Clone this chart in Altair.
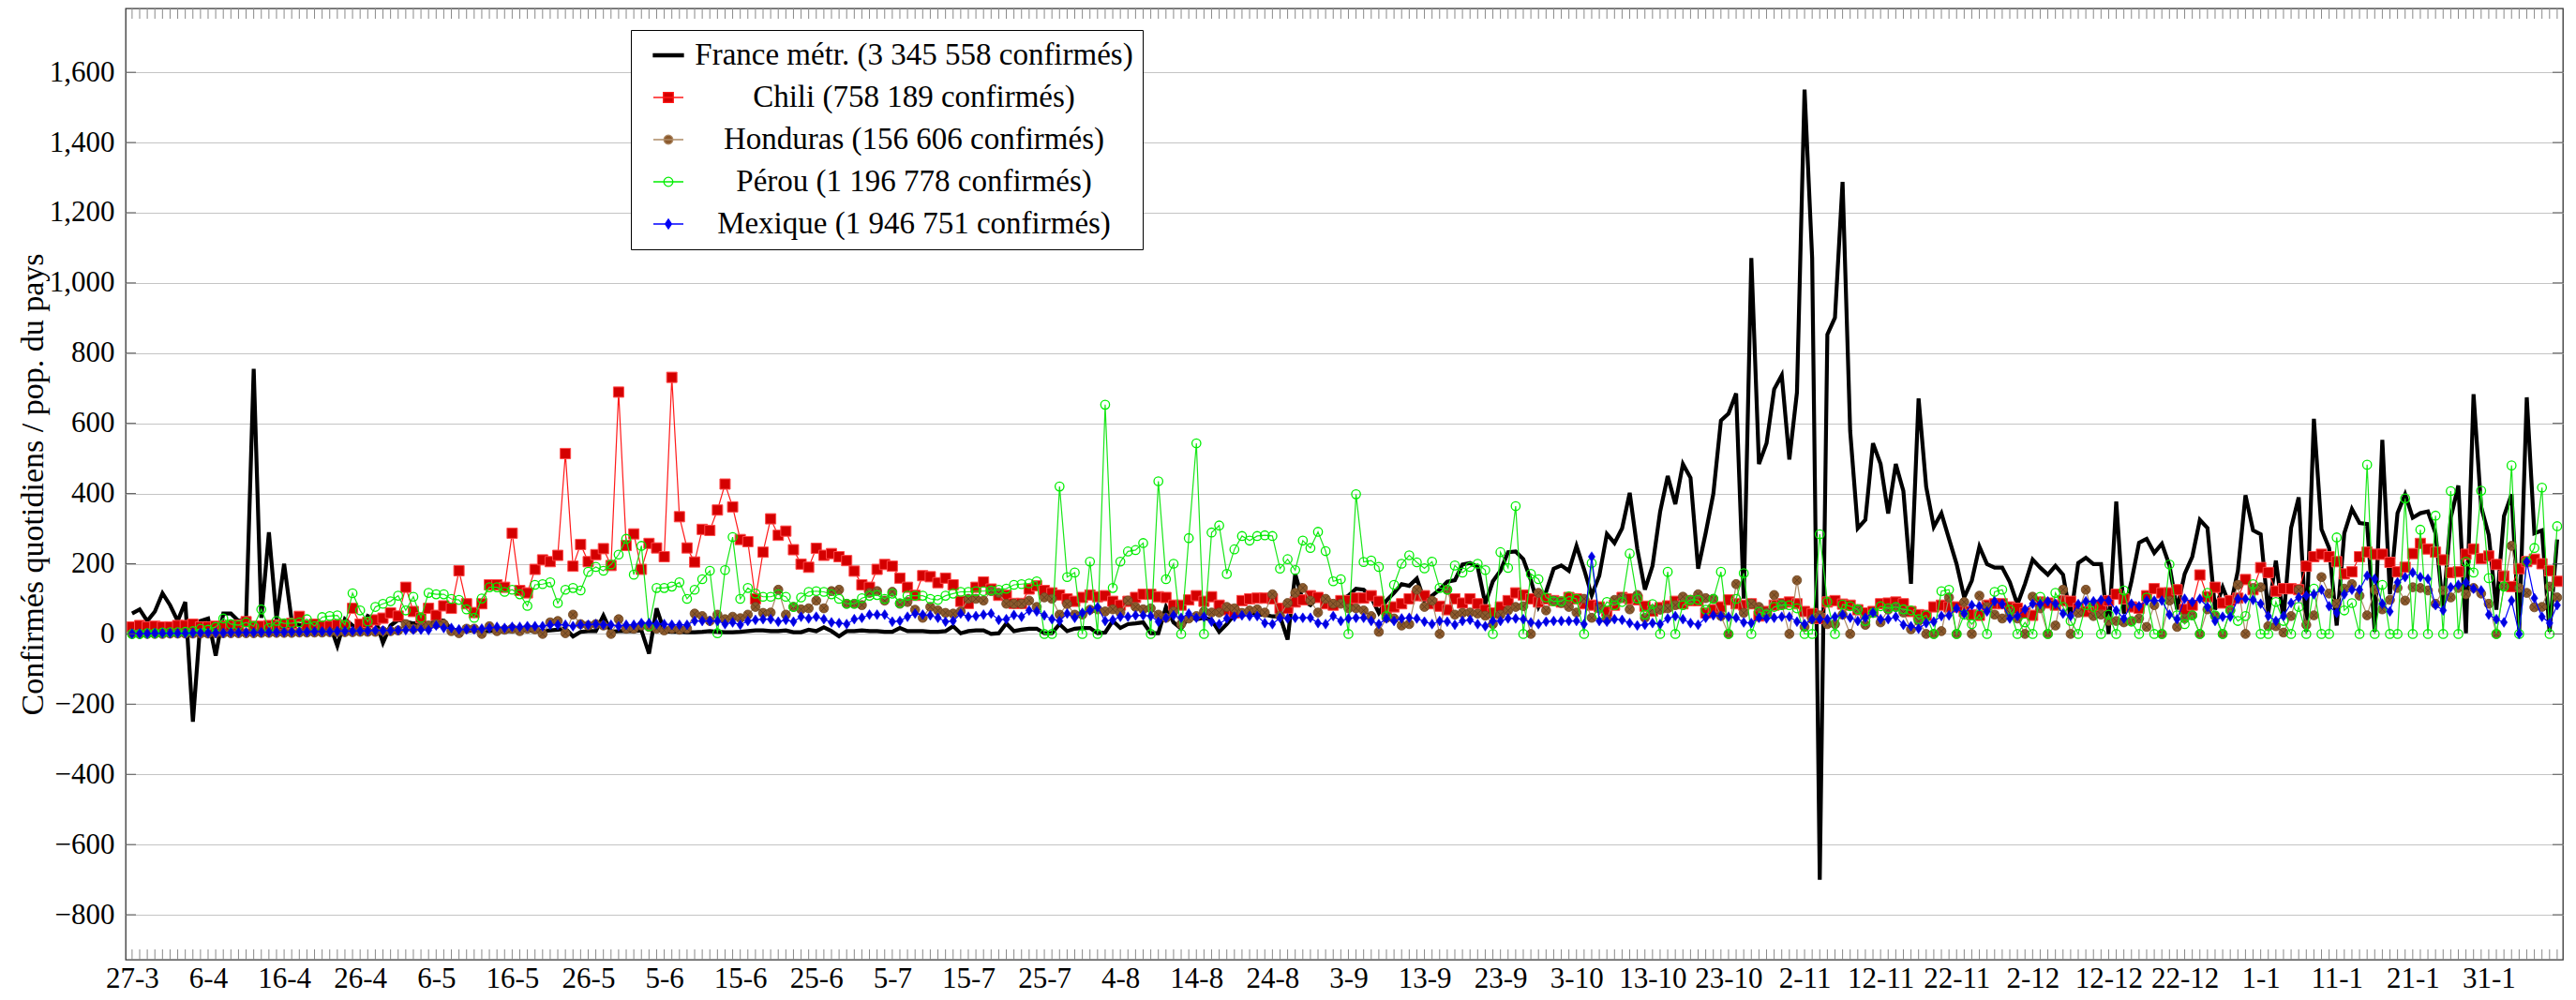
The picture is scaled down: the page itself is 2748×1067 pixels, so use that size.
import altair as alt
import pandas as pd

# ---------------- data ----------------
xtick_labels = ["27-3", "6-4", "16-4", "26-4", "6-5", "16-5", "26-5", "5-6", "15-6", "25-6",
                "5-7", "15-7", "25-7", "4-8", "14-8", "24-8", "3-9", "13-9", "23-9", "3-10",
                "13-10", "23-10", "2-11", "12-11", "22-11", "2-12", "12-12", "22-12", "1-1",
                "11-1", "21-1", "31-1"]
ytick_values = [-800, -600, -400, -200, 0, 200, 400, 600, 800, 1000, 1200, 1400, 1600]

series_labels = ["France métr. (3 345 558 confirmés)",
                 "Chili (758 189 confirmés)",
                 "Honduras (156 606 confirmés)",
                 "Pérou (1 196 778 confirmés)",
                 "Mexique (1 946 751 confirmés)"]

france = [
    58, 70, 37, 64, 116, 82, 37, 91, -250, 37, 44, -62, 58, 58, 37, 42, 755, 46, 290, 42,
    200, 37, 24, 28, 33, 33, 28, -34, 42, 24, 6, 51, 42, -25, 24, 40, 35, 30, 30, 25,
    40, 38, 12, 10, 8, 10, 8, 8, 10, 8, 8, 10, 10, 8, 8, 10, 12, 15, -7, 6,
    8, 8, 52, 6, 8, 8, 8, 10, -56, 73, 8, 6, 6, 5, 5, 6, 8, 6, 5,
    5, 6, 8, 10, 10, 8, 8, 10, 5, 5, 12, 8, 19, 8, -7, 8, 8, 10, 8, 8,
    6, 6, 17, 8, 8, 8, 6, 6, 8, 22, 2, 8, 10, 10, 0, 2, 30, 8, 12, 15, 15,
    2, 2, 28, 8, 15, 17, 17, 2, 4, 37, 17, 28, 30, 33, 2, 2, 77, 33, 15, 51,
    42, 46, 40, 6, 28, 55, 60, 64, 55, 55, 50, 50, -16, 171, 95, 82, 104, 90, 86,
    95, 109, 129, 126, 104, 60, 95, 117, 142, 137, 158, 95, 109, 126, 149, 153, 198, 202,
    191, 86, 150, 180, 233, 235, 213, 153, 77, 120, 186, 195, 180, 251, 184, 110, 166,
    285, 259, 301, 402, 242, 126, 194, 348, 450, 370, 484, 445, 186, 288, 399, 608, 628,
    685, 101, 1071, 484, 543, 697, 737, 497, 688, 1551, 1071, -700, 853, 901, 1288, 578,
    301, 325, 543, 484, 343, 484, 407, 143, 671, 419, 305, 344, 271, 199, 104, 152, 249,
    199, 189, 189, 148, 84, 143, 212, 189, 169, 194, 169,
    46, 202, 217, 199, 199, 0, 377, 58, 150, 260, 271, 231, 257, 195, 70, 171, 220, 325,
    302, 70, 133, 77, 180, 395, 295, 284,
    60, 209, 42, 302, 389, 6, 613, 298, 245, 24, 287, 356, 316, 313, 6, 553, 113, 344,
    398, 331, 344, 349, 287, 70, 331, 423, 2, 683, 362, 282, 69, 336, 398, 6, 674, 287,
    295, 6, 269]

chili = [
    20, 24, 20, 22, 20, 20, 24, 24, 28, 20, 20, 22, 22, 24, 25, 35, 22, 22, 24, 25,
    28, 30, 50, 24, 28, 22, 22, 26, 22, 73, 28, 33, 40, 45, 60, 51, 133, 64, 46,
    73, 53, 80, 73, 180, 86, 61, 86, 140, 140, 133, 287, 124, 117, 184, 211, 206, 224,
    514, 193, 255, 206, 226, 243, 195, 689, 252, 285, 184, 258, 245, 220, 731, 334, 245,
    205, 298, 295, 353, 427, 362, 269,
    263, 100, 233, 328, 281, 293, 240, 199, 190, 244, 224, 229, 220, 209, 179, 140, 133,
    184, 198, 193, 159, 133, 110, 166, 163, 146, 159, 140, 93, 87, 133, 148, 128, 110,
    110, 87, 87, 128, 137,
    124, 117, 111, 100, 93, 104, 111, 106, 109, 93, 82, 93, 104, 113, 113, 106, 104, 82,
    82, 97, 109, 93, 106, 82, 69, 60, 95, 100, 102, 102, 100, 73, 73, 91, 97, 109, 104,
    86, 82,
    95, 95, 102, 102, 109, 93, 69, 77, 86, 100, 109, 109, 86, 79, 69, 100, 88, 100, 86,
    69, 60, 77, 95, 117, 111, 100, 91, 100, 95, 91, 104, 100, 86, 82, 77, 64, 82, 104,
    100, 97,
    79, 65, 75, 80, 93, 86, 95, 95, 60, 69, 77, 97, 86, 82, 86, 51, 64, 82, 86, 91, 86,
    64, 58, 44, 91, 95, 85, 82, 69, 60, 64, 86, 88, 91, 86, 64, 55, 53, 77, 82,
    77, 77, 64, 55, 53, 82, 86, 86, 77, 73, 60, 53, 91, 88, 82, 95, 93, 73, 64, 77, 82,
    95, 113, 100, 77, 73, 109, 129, 117, 117, 126, 70, 82, 168, 106, 133, 88, 95, 102,
    155, 126,
    189, 175, 122, 129, 129, 126, 193, 220, 227, 220, 206, 171, 177, 220, 233, 227, 227,
    204, 177, 190, 229, 258, 242, 233, 211, 175, 177, 227, 242, 215, 222, 198, 165, 135,
    186, 206, 213, 200, 180, 150]

honduras = [
    0, 0, 0, 0, 0, 1, 1, 1, 1, 1, 1, 2, 2, 2, 2, 2, 2, 3, 3, 3, 3, 3, 4, 4, 4, 4, 5, 5,
    5, 5, 6, 6, 6, 8, 8, 10, 28, 15, 20,
    24, 28, 28, 8, 2, 15, 15, 0, 22, 8, 12, 15, 8, 15, 13, 0, 33, 37, 2, 55, 28, 24, 28,
    24, 0, 42, 15, 15, 24, 20, 15, 10, 15, 12, 15, 58, 51, 37, 55, 42, 49, 45,
    55, 77, 60, 61, 126, 55, 77, 70, 73, 95, 73, 122, 126, 86, 86, 82, 117, 122, 95, 120,
    86, 91, 69, 46, 77, 67, 60, 58, 64, 100, 100, 95, 122, 117, 86, 86, 86, 95, 77,
    104, 100, 55, 85, 55, 55, 69, 70, 64, 70, 61, 95, 77, 70, 73, 55, 46, 64, 28, 44, 51,
    64, 61, 61, 77, 73, 60, 67, 70, 61, 113, 51, 88, 117, 131, 95, 61, 100, 86,
    86, 73, 73, 67, 51, 6, 46, 44, 24, 28, 126, 77, 95, 0, 126, 55, 60, 61, 58, 52, 28,
    55, 67, 77, 79, 0, 117, 67, 95, 88, 77, 61, 100, 46, 73, 42, 97, 104, 70, 111,
    46, 70, 69, 73, 82, 106, 97, 113, 102, 100, 51, 0, 142, 60, 86, 77, 60, 111, 85, 0,
    153, 20, 42, 53, 28, 28, 55, 0, 70, 26, 60, 33, 69, 77, 61, 13, 37, 0, 0, 8,
    104, 0, 91, 0, 109, 77, 55, 44, 60, 44, 0, 106, 73, 0, 24, 126, 0, 60, 126, 51, 55,
    37, 37, 33, 37, 44, 20, 82, 0, 95, 20, 44, 53, 0, 70, 51, 0, 67, 140, 0, 131,
    133, 22, 22, 4, 51, 126, 26, 53, 162, 115, 86, 129, 142, 109, 53, 126, 70, 97, 131,
    95, 133, 131, 124, 86, 124, 104, 131, 113, 131, 115, 86, 0, 135, 251, 131, 117, 76,
    77, 135, 104]

perou = [
    0, 0, 2, 2, 4, 5, 5, 6, 8, 15, 12, 20, 44, 28, 25, 33, 22, 70, 17, 37, 30, 31, 33,
    42, 22, 48, 51, 53, 26, 116, 67, 35, 77, 86, 93, 109, 67, 106, 46,
    117, 113, 113, 100, 97, 70, 46, 101, 133, 133, 120, 126, 113, 80, 140, 142, 147, 88,
    126, 131, 124, 177, 191, 180, 198, 226, 271, 169, 251, 22, 131, 131, 135, 147, 100,
    126, 156, 180, 2, 182, 276, 100,
    131, 115, 106, 106, 113, 106, 77, 104, 120, 122, 120, 113, 100, 86, 86, 102, 109, 111,
    100, 115, 88, 109, 109, 109, 100, 97, 109, 115, 120, 120, 122, 122, 124, 126, 129,
    140, 142, 144, 150,
    0, 0, 420, 162, 175, 0, 206, 0, 653, 131, 206, 235, 239, 259, 0, 435, 156, 200, 0,
    273, 543, 0, 289, 309, 171, 241, 279, 266, 279, 281, 279, 186, 213, 182, 266, 245,
    291, 236, 150,
    156, 0, 398, 205, 209, 191, 51, 140, 200, 224, 204, 187, 206, 131, 126, 195, 175, 191,
    200, 182, 0, 233, 188, 364, 0, 171, 156, 104, 93, 93, 107, 100, 0, 202, 55, 91, 82,
    91, 229, 101,
    55, 85, 0, 177, 0, 82, 97, 97, 69, 100, 177, 0, 100, 173, 0, 63, 55, 77, 82, 82, 73,
    0, 0, 284, 91, 0, 84, 79, 70, 37, 60, 79, 73, 77, 70, 67, 42, 53, 0, 122,
    126, 0, 55, 28, 55, 0, 120, 126, 69, 0, 33, 0, 106, 0, 117, 77, 37, 0, 82, 77, 0, 55,
    0, 124, 35, 0, 104, 0, 0, 198, 53, 28, 53, 0, 117, 53, 0, 67, 37, 51, 142,
    0, 0, 91, 37, 0, 77, 0, 129, 0, 0, 275, 67, 88, 0, 482, 0, 140, 0, 0, 386, 0, 297, 0,
    337, 0, 407, 0, 206, 175, 408, 159, 0, 135, 480, 0, 206, 245, 417, 0, 307]

mexique = [
    1, 1, 1, 2, 2, 2, 2, 2, 3, 3, 3, 3, 3, 4, 4, 4, 4, 5, 5, 5, 5, 6, 6, 6, 7, 7, 7, 8,
    8, 8, 9, 9, 10, 10, 10, 11, 11, 12, 12,
    11, 24, 17, 17, 13, 13, 13, 15, 17, 20, 17, 20, 20, 22, 22, 22, 26, 26, 26, 22, 26,
    26, 28, 26, 26, 22, 26, 26, 31, 31, 28, 28, 26, 26, 26, 37, 37, 37, 37, 28,
    33, 26, 37, 40, 42, 42, 35, 40, 35, 49, 44, 49, 42, 33, 31, 28, 42, 46, 55, 55, 55,
    35, 37, 49, 58, 55, 53, 46, 35, 37, 58, 49, 51, 55, 58, 40, 42, 54, 49, 67, 64,
    53, 42, 37, 58, 46, 60, 67, 76, 37, 40, 49, 49, 53, 53, 51, 35, 46, 53, 46, 58, 46,
    49, 35, 28, 44, 49, 53, 51, 51, 31, 28, 46, 44, 46, 46, 46, 31, 28, 51, 37,
    44, 46, 46, 37, 28, 44, 37, 44, 46, 44, 35, 28, 37, 35, 26, 37, 40, 28, 22, 37, 37,
    44, 44, 42, 33, 28, 35, 37, 37, 37, 37, 28, 220, 37, 35, 42, 40, 31, 24, 26,
    31, 28, 44, 51, 42, 31, 26, 46, 53, 51, 49, 46, 33, 31, 46, 44, 46, 49, 49, 35, 28,
    42, 42, 42, 49, 55, 46, 37, 46, 61, 42, 42, 49, 26, 22, 15, 31, 35, 51, 53,
    73, 58, 82, 79, 64, 93, 85, 44, 51, 70, 86, 85, 93, 86, 58, 51, 85, 93, 93, 97, 95,
    67, 44, 86, 79, 95, 95, 95, 55, 42, 100, 91, 100, 77, 37, 49, 49, 100, 100, 97,
    86, 51, 37, 51, 88, 104, 109, 113, 126, 79, 60, 113, 126, 126, 166, 157, 86, 64, 147,
    162, 175, 162, 157, 82, 67, 133, 140, 147, 129, 124, 55, 42, 33, 95, 0, 206, 102, 49,
    31, 82]

N = len(france)
for s in (chili, honduras, perou, mexique):
    assert len(s) == N, (len(s), N)
days = list(range(N))

# ---------------- styling ----------------
FONT = "Liberation Serif, Times New Roman, DejaVu Serif, serif"
W, H = 2600, 1015

def frame(vals):
    return pd.DataFrame({"day": days, "v": vals})

label_js = "[" + ",".join("'%s'" % s for s in xtick_labels) + "][round(datum.value/10)]"
xaxis = alt.Axis(values=list(range(0, 10 * len(xtick_labels), 10)), labelExpr=label_js,
                 ticks=False, domain=False, grid=False, title=None, labelFlush=False,
                 labelOverlap=False, labelFont=FONT, labelFontSize=31, labelColor="black",
                 labelPadding=5)
yaxis = alt.Axis(values=ytick_values, format=",d", ticks=False, domain=False, grid=True,
                 gridColor="#c4c4c4", gridWidth=1.1,
                 title="Confirmés quotidiens / pop. du pays", titleFont=FONT,
                 titleFontSize=34, titleFontWeight="normal", titleColor="black",
                 titlePadding=0, labelFont=FONT, labelFontSize=31, labelColor="black",
                 labelPadding=12)
xscale = alt.Scale(domain=[-0.85, 319.75], nice=False, zero=False)
yscale = alt.Scale(domain=[-928, 1782], nice=False, zero=False)
X = alt.X("day:Q", scale=xscale, axis=xaxis)
Y = alt.Y("v:Q", scale=yscale, axis=yaxis)

def line(vals, color, width):
    return alt.Chart(frame(vals)).mark_line(color=color, strokeWidth=width, clip=True).encode(x=X, y=Y)

def pts(vals, **kw):
    return alt.Chart(frame(vals)).mark_point(clip=True, **kw).encode(x=X, y=Y)

diamond = "M0,-1L0.68,0L0,1L-0.68,0Z"
cross = "M-0.68,-0.68L0.68,0.68M-0.68,0.68L0.68,-0.68"

layers = [
    line(france, "black", 4.2),
    line(chili, "#ff1a1a", 1.2),
    pts(chili, shape="square", size=121, filled=True, fill="#d40000", stroke="#ff4a4a",
        strokeWidth=1, opacity=1),
    line(honduras, "#ad8a66", 1.2),
    pts(honduras, shape="circle", size=95, filled=True, fill="#8c5a2d", stroke="#6e4622",
        strokeWidth=0.8, opacity=1),
    pts(honduras, shape=cross, size=95, filled=False, stroke="#5b3a1c", strokeWidth=0.8,
        opacity=1),
    line(perou, "#19e619", 1.2),
    pts(perou, shape="circle", size=88, filled=False, stroke="#00ee00", strokeWidth=1.3,
        opacity=1),
    line(mexique, "#0000ff", 1.2),
    pts(mexique, shape=diamond, size=115, filled=True, fill="#0000e0", stroke="#0000ff",
        strokeWidth=0.5, opacity=1),
]

# axis decorations: inward ticks (pgfplots style)
tick_df = pd.DataFrame({"day": days})
ytick_df = pd.DataFrame({"v": ytick_values})
tick_col = "#8a8a8a"
layers += [
    alt.Chart(tick_df).mark_rule(color=tick_col, strokeWidth=1).encode(
        x=X, y=alt.value(H - 11), y2=alt.value(H)),
    alt.Chart(tick_df).mark_rule(color=tick_col, strokeWidth=1).encode(
        x=X, y=alt.value(0), y2=alt.value(11)),
    alt.Chart(ytick_df).mark_rule(color="#555555", strokeWidth=1).encode(
        y=Y, x=alt.value(0), x2=alt.value(11)),
    alt.Chart(ytick_df).mark_rule(color="#555555", strokeWidth=1).encode(
        y=Y, x=alt.value(W - 11), x2=alt.value(W)),
]

# legend (invisible points that only feed the legend)
legend_paths = [
    "M-1,-0.1H1V0.1H-1Z",
    "M-1,0H1M-0.33,-0.33H0.33V0.33H-0.33Z",
    "M-1,0H1M0.3,0A0.3,0.3 0 1,1 -0.3,0A0.3,0.3 0 1,1 0.3,0Z",
    "M-1,0H1M0.3,0A0.3,0.3 0 1,1 -0.3,0A0.3,0.3 0 1,1 0.3,0Z",
    "M-1,0H1M0,-0.32L0.21,0L0,0.32L-0.21,0Z",
]
legend_fill = ["black", "#d40000", "#8c5a2d", "white", "#0000e0"]
legend_stroke = ["black", "#ff1a1a", "#ad8a66", "#00ee00", "#0000ff"]
legend_df = pd.DataFrame({"label": series_labels, "day": [0] * 5, "v": [0] * 5})
layers.append(
    alt.Chart(legend_df).mark_point(filled=True, opacity=0).encode(
        x=X, y=Y,
        shape=alt.Shape("label:N", scale=alt.Scale(domain=series_labels, range=legend_paths), title=None),
        fill=alt.Fill("label:N", scale=alt.Scale(domain=series_labels, range=legend_fill), title=None),
        stroke=alt.Stroke("label:N", scale=alt.Scale(domain=series_labels, range=legend_stroke), title=None),
    )
)

chart = alt.layer(*layers).properties(
    width=W, height=H,
    padding={"left": 126, "top": 1, "right": 6, "bottom": 36},
    autosize=alt.AutoSizeParams(type="none"),
    background="white",
).configure(
    font=FONT
).configure_view(
    stroke="#333333", strokeWidth=1.3
).configure_legend(
    orient="none", legendX=539, legendY=23, fillColor="white", strokeColor="black",
    padding=10, cornerRadius=0, labelFont=FONT, labelFontSize=33, labelColor="black",
    labelLimit=1000, labelAlign="center", labelOffset=245, symbolSize=1024,
    symbolOffset=13, symbolStrokeWidth=1.3, symbolOpacity=1, rowPadding=11,
)

chart.save("out.html", embed_options={"renderer": "svg", "actions": False})
